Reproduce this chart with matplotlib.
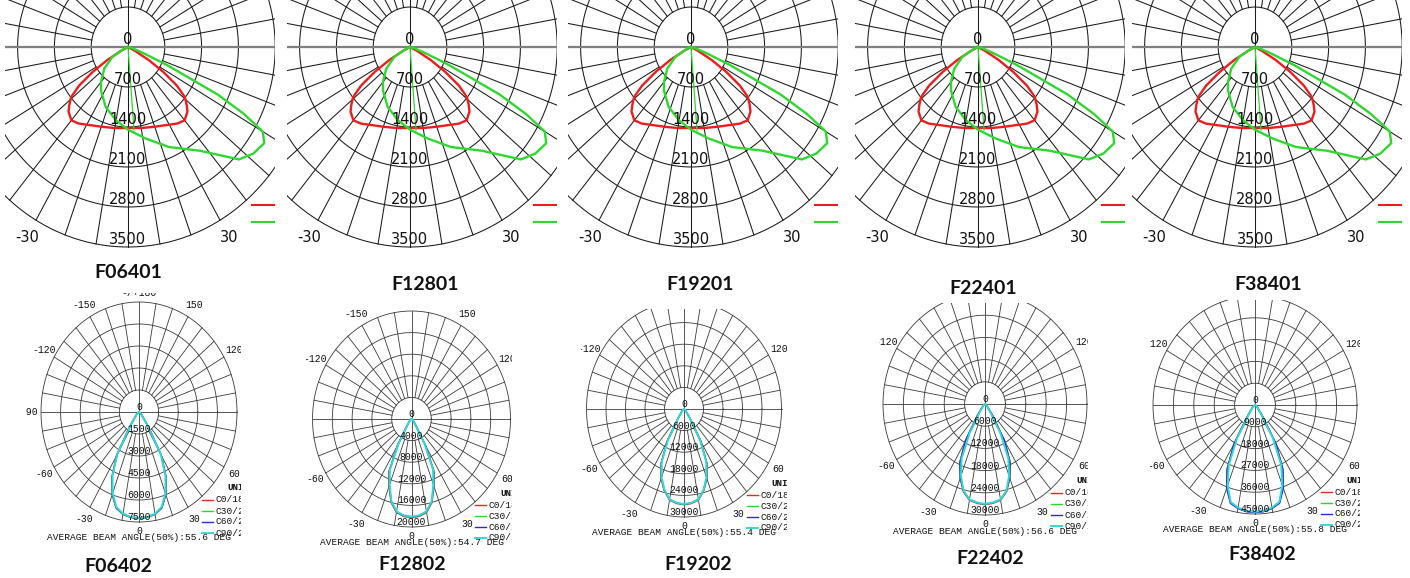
import numpy as np
import matplotlib
matplotlib.use("Agg")
import matplotlib.pyplot as plt

W, H = 1410, 578

# ---------------- data ----------------
TOP_MODELS = ["F06401", "F12801", "F19201", "F22401", "F38401"]
BOTTOM_MODELS = ["F06402", "F12802", "F19202", "F22402", "F38402"]

TOP_RINGS = [700, 1400, 2100, 2800, 3500]
TOP_ANGLE_LABELS = [-30, 30]

# C0/180 plane (red), gamma from nadir, symmetric
RED_GAMMA = [0, 10, 20, 25, 30, 35, 40, 45, 48, 51, 54, 57, 60, 63, 66, 90]
RED_CD = [1418, 1440, 1485, 1520, 1570, 1635, 1675, 1600, 1500, 1390, 1150, 800, 450, 150, 0, 0]

# C90/270 plane (green), signed gamma (- left, + right)
GREEN_GAMMA = [-90, -70, -60, -50, -40, -34, -22, -10, 0, 12, 24, 37, 47, 52, 57,
               60, 62, 64, 65, 67, 70, 75, 90]
GREEN_CD = [0, 60, 340, 590, 800, 919, 1132, 1304, 1447, 1639, 1916, 2273, 2885, 3028, 3090,
            2960, 2500, 1900, 1300, 800, 300, 80, 0]
GREEN_SPUR_GAMMA = 4.5
GREEN_SPUR_CD = 1460

# bottom row: gamma from nadir, symmetric planes
GAMMA_B = [0, 5, 10, 15, 20, 25, 30, 35, 40, 45, 50, 60, 75, 90]
B_RMAX = [7500, 20000, 30000, 30000, 45000]
B_BEAM = [55.6, 54.7, 55.4, 56.6, 55.8]
PLANE_LABELS = ["C0/180", "C30/210", "C60/240", "C90/270"]
B_ANGLE_LABELS = [0, 30, 60, 90, 120, 150, 180, -150, -120, -90, -60, -30]

F06402_C0 = [7260, 7220, 7090, 6780, 6000, 4900, 3450, 1350, 520, 300, 180, 90, 30, 0]
F06402_C30 = [7250, 7210, 7080, 6760, 5980, 4880, 3430, 1330, 515, 295, 180, 90, 30, 0]
F06402_C60 = [7240, 7200, 7070, 6750, 5960, 4860, 3410, 1310, 510, 290, 180, 90, 30, 0]
F06402_C90 = [7230, 7190, 7040, 6700, 5900, 4800, 3330, 1200, 480, 280, 170, 85, 30, 0]

F12802_C0 = [18300, 18100, 17600, 16000, 13300, 10800, 5700, 1750, 950, 560, 370, 180, 70, 0]
F12802_C30 = [18200, 18000, 17500, 15900, 13150, 10650, 5550, 1700, 920, 550, 360, 180, 70, 0]
F12802_C60 = [18150, 17950, 17450, 15800, 13100, 10550, 5480, 1660, 910, 545, 360, 180, 70, 0]
F12802_C90 = [18100, 17900, 17380, 15750, 12900, 10300, 5200, 1500, 880, 540, 360, 180, 70, 0]

F19202_C0 = [26600, 26350, 25700, 23500, 20600, 16650, 10300, 3300, 1350, 800, 530, 260, 110, 0]
F19202_C30 = [26500, 26250, 25600, 23400, 20450, 16500, 10150, 3250, 1330, 790, 530, 260, 110, 0]
F19202_C60 = [26450, 26200, 25550, 23300, 20400, 16450, 10100, 3200, 1320, 790, 530, 260, 110, 0]
F19202_C90 = [26400, 26140, 25480, 23230, 20200, 16200, 9700, 2900, 1250, 780, 520, 260, 110, 0]

F22402_C0 = [27200, 26950, 26400, 24550, 21350, 17600, 11700, 4300, 1700, 970, 550, 270, 110, 0]
F22402_C30 = [27100, 26850, 26300, 24450, 21250, 17450, 11550, 4200, 1680, 960, 545, 270, 110, 0]
F22402_C60 = [27050, 26800, 26250, 24400, 21200, 17400, 11500, 4150, 1660, 955, 540, 270, 110, 0]
F22402_C90 = [27000, 26730, 26190, 24300, 20700, 16300, 9000, 2600, 1300, 900, 520, 260, 110, 0]

F38402_C0 = [44300, 44100, 43250, 41700, 36000, 28500, 17900, 6300, 2700, 1560, 890, 440, 180, 0]
F38402_C30 = [44200, 44000, 43150, 41600, 35900, 28400, 17800, 6250, 2680, 1550, 885, 440, 180, 0]
F38402_C60 = [44400, 44200, 43400, 42000, 36600, 29300, 18600, 6600, 2750, 1580, 900, 450, 180, 0]
F38402_C90 = [44100, 43880, 43000, 41450, 35300, 27300, 15800, 4800, 2400, 1500, 870, 430, 180, 0]

BOTTOM_PLANES = [
    [F06402_C0, F06402_C30, F06402_C60, F06402_C90],
    [F12802_C0, F12802_C30, F12802_C60, F12802_C90],
    [F19202_C0, F19202_C30, F19202_C60, F19202_C90],
    [F22402_C0, F22402_C30, F22402_C60, F22402_C90],
    [F38402_C0, F38402_C30, F38402_C60, F38402_C90],
]

# ---------------- layout (pixels) ----------------
T_CX = [128, 410, 691, 978, 1255]
T_CY = 47
T_RX, T_RY = 184.0, 200.0          # px of outer ring (3500)
T_TITLE = [(128, 272), (425, 284), (700, 284), (983, 288), (1268, 284)]

B_CX = [139, 411.5, 684, 985, 1255]
B_CY = [412, 419, 409, 404, 405]
B_RX = [98, 99, 97.5, 102, 102]
B_RY = [110, 108, 108, 111, 109]
B_RECT = [(26, 293, 241, 546), (306, 308, 512, 548), (581, 309, 787, 545),
          (879, 303, 1088, 540), (1150, 300, 1360, 545)]
B_TITLE = [(118, 567), (412, 565), (698, 565), (990, 558), (1262, 555)]

RED = "#ee1c1c"
GREEN = "#2fd82f"
PLANE_COLORS = ["#ff2020", "#22dd22", "#2a2ad8", "#33d8d8"]

fig = plt.figure(figsize=(W / 100, H / 100), dpi=100)
fig.patch.set_facecolor("white")


def px_axes(x0, y0, x1, y1, cx, cy, ux, uy):
    ax = fig.add_axes([x0 / W, 1 - y1 / H, (x1 - x0) / W, (y1 - y0) / H])
    ax.set_xlim((x0 - cx) * ux, (x1 - cx) * ux)
    ax.set_ylim((cy - y1) * uy, (cy - y0) * uy)
    ax.set_axis_off()
    return ax


def polar_xy(gamma_deg, cd):
    g = np.deg2rad(np.asarray(gamma_deg, dtype=float))
    r = np.asarray(cd, dtype=float)
    return r * np.sin(g), -r * np.cos(g)


def inside(ax, x, y):
    xl, yl = ax.get_xlim(), ax.get_ylim()
    return xl[0] <= x <= xl[1] and yl[0] <= y <= yl[1]


def draw_grid(ax, rings, inner, rmax, color, lw):
    t = np.linspace(0, 2 * np.pi, 721)
    for r in rings:
        ax.plot(r * np.cos(t), r * np.sin(t), color=color, lw=lw, zorder=1)
    for a in range(0, 360, 10):
        rad = np.deg2rad(a)
        r0 = 0 if a % 90 == 0 else inner
        ax.plot([r0 * np.sin(rad), rmax * np.sin(rad)],
                [-r0 * np.cos(rad), -rmax * np.cos(rad)], color=color, lw=lw, zorder=1)


# ---------------- top row ----------------
ux_t = TOP_RINGS[-1] / T_RX
uy_t = TOP_RINGS[-1] / T_RY
for i, name in enumerate(TOP_MODELS):
    cx = T_CX[i]
    x0, x1, y0, y1 = cx - 123, cx + 147, 0, 252
    ax = px_axes(x0, y0, x1, y1, cx, T_CY, ux_t, uy_t)
    rmax = TOP_RINGS[-1]
    draw_grid(ax, TOP_RINGS, TOP_RINGS[0], rmax, "#1a1a1a", 0.75)
    ax.axhline(0, color="#808080", lw=1.6, zorder=1.5)
    ax.text(0, 0, "0", ha="center", va="bottom", fontsize=10.5, family="DejaVu Sans",
            color="#111", zorder=5, clip_on=True)
    for r in TOP_RINGS:
        ax.text(0, -r, str(r), ha="center", va="bottom", fontsize=10.5,
                family="DejaVu Sans", color="#111", zorder=5, clip_on=True)
    for a in TOP_ANGLE_LABELS:
        x, y = polar_xy(a, 3850)
        ax.text(x, y, str(a), ha="center", va="center", fontsize=10.5,
                family="DejaVu Sans", color="#111", zorder=5, clip_on=True)
    g_red = np.concatenate([-np.array(RED_GAMMA[::-1]), np.array(RED_GAMMA[1:])])
    cd_red = np.concatenate([np.array(RED_CD[::-1]), np.array(RED_CD[1:])])
    xr, yr = polar_xy(g_red, cd_red)
    ax.plot(xr, yr, color=RED, lw=1.7, zorder=3, solid_joinstyle="round")
    xg, yg = polar_xy(GREEN_GAMMA, GREEN_CD)
    ax.plot(xg, yg, color=GREEN, lw=1.7, zorder=3, solid_joinstyle="round")
    xs, ys = polar_xy([0, GREEN_SPUR_GAMMA], [0, GREEN_SPUR_CD])
    ax.plot(xs, ys, color=GREEN, lw=0.9, zorder=3)
    ax.plot([0.915, 0.995], [0.187, 0.187], color=RED, lw=1.5, transform=ax.transAxes)
    ax.plot([0.915, 0.995], [0.119, 0.119], color=GREEN, lw=1.5, transform=ax.transAxes)
    tx, ty = T_TITLE[i]
    fig.text(tx / W, 1 - ty / H, name, ha="center", va="center", fontsize=14,
             fontweight="bold", family="Lato", color="#111")

# ---------------- bottom row ----------------
MONO = "Liberation Mono"
for i, name in enumerate(BOTTOM_MODELS):
    rmax = B_RMAX[i]
    step = rmax / 5
    rings = [step * k for k in range(1, 6)]
    cx, cy, rx, ry = B_CX[i], B_CY[i], B_RX[i], B_RY[i]
    x0, y0, x1, y1 = B_RECT[i]
    ax = px_axes(x0, y0, x1, y1, cx, cy, rmax / rx, rmax / ry)
    draw_grid(ax, rings, step, rmax, "#3a3a3a", 0.6)

    ax.text(0, 0, "0", ha="center", va="bottom", fontsize=7, family=MONO,
            color="#111", zorder=6, clip_on=True)
    for r in rings:
        ax.text(0, -r, f"{int(r)}", ha="center", va="bottom", fontsize=7, family=MONO,
                color="#111", zorder=6, clip_on=True)
    for a in B_ANGLE_LABELS:
        lab = "-/+180" if a == 180 else str(a)
        rr = 1.08 if a in (0, 180) else 1.12
        x, y = polar_xy(a, rr * rmax)
        if not inside(ax, float(x), float(y)):
            continue
        ax.text(x, y, lab, ha="center", va="center", fontsize=7, family=MONO,
                color="#111", zorder=6, clip_on=True)

    g_full = np.concatenate([-np.array(GAMMA_B[::-1]), np.array(GAMMA_B[1:])])
    for k, vals in enumerate(BOTTOM_PLANES[i]):
        cd_full = np.concatenate([np.array(vals[::-1]), np.array(vals[1:])])
        xb, yb = polar_xy(g_full, cd_full)
        ax.plot(xb, yb, color=PLANE_COLORS[k], lw=1.4 if k == 3 else 1.0,
                zorder=3 + k * 0.1, solid_joinstyle="round")

    ax.text(0.90 * rmax, -0.69 * rmax, "UNIT:cd", ha="left", va="center", fontsize=6.6,
            family=MONO, fontweight="bold", color="#111", zorder=6, clip_on=True)
    for k, lab in enumerate(PLANE_LABELS):
        yy = -(0.80 + 0.10 * k) * rmax
        ax.plot([0.645 * rmax, 0.755 * rmax], [yy, yy], color=PLANE_COLORS[k],
                lw=1.0 if k < 3 else 1.4, zorder=6)
        ax.text(0.78 * rmax, yy, lab, ha="left", va="center", fontsize=6.8, family=MONO,
                color="#111", zorder=6, clip_on=True)

    ax.text(0, -1.145 * rmax, f"AVERAGE BEAM ANGLE(50%):{B_BEAM[i]} DEG", ha="center",
            va="center", fontsize=6.8, family=MONO, color="#111", zorder=5, clip_on=False)

    tx, ty = B_TITLE[i]
    fig.text(tx / W, 1 - ty / H, name, ha="center", va="center", fontsize=14,
             fontweight="bold", family="Lato", color="#111")

fig.savefig("out.png", dpi=100, facecolor="white")
